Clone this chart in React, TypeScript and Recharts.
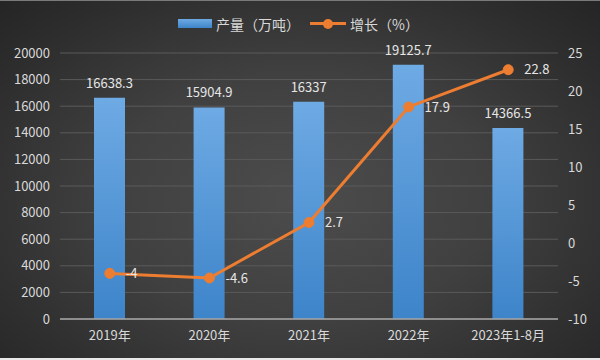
import React from 'react';
import {
  ComposedChart,
  Bar,
  Line,
  XAxis,
  YAxis,
  CartesianGrid,
  LabelList,
} from 'recharts';

const categories = ['2019年', '2020年', '2021年', '2022年', '2023年1-8月'];
const production = [16638.3, 15904.9, 16337, 19125.7, 14366.5];
const growth = [-4, -4.6, 2.7, 17.9, 22.8];
const leftTicks = [0, 2000, 4000, 6000, 8000, 10000, 12000, 14000, 16000, 18000, 20000];
const rightTicks = [-10, -5, 0, 5, 10, 15, 20, 25];
const barName = '产量（万吨）';
const lineName = '增长（%）';

const data = categories.map((c, i) => ({ name: c, production: production[i], growth: growth[i] }));

const FONT = '"Noto Sans CJK SC", "Noto Sans", sans-serif';
const TEXT = '#d9d9d9';
const ORANGE = '#ED7D31';

export default function App() {
  return (
    <div style={{ position: 'absolute', left: 0, top: 0, width: 600, height: 360, background: '#e8e8e8', fontFamily: FONT }}>
      <div
        style={{
          position: 'absolute',
          left: 0,
          top: 0,
          width: 600,
          height: 358,
          background: 'radial-gradient(ellipse at 50% 55%, #4c4c4c 0%, #404040 45%, #2e2e2e 80%, #252525 100%)',
          borderTop: '1px solid #7a7a7a',
          boxSizing: 'border-box',
        }}
      />
      <div style={{ position: 'absolute', left: 0, top: 0 }}>
        <ComposedChart width={600} height={360} data={data} margin={{ top: 53, right: 0, bottom: 11, left: 0 }}>
          <defs>
            <linearGradient id="barGrad" x1="0" y1="0" x2="0" y2="1">
              <stop offset="0%" stopColor="#6eaae4" />
              <stop offset="100%" stopColor="#3d84c9" />
            </linearGradient>
          </defs>
          <CartesianGrid yAxisId="left" vertical={false} stroke="#5a5a5a" strokeWidth={1} />
          <XAxis
            dataKey="name"
            height={30}
            axisLine={{ stroke: '#a6a6a6', strokeWidth: 1.5 }}
            tickLine={false}
            tickMargin={6}
            tick={{ fill: TEXT, fontSize: 13, fontFamily: FONT }}
            interval={0}
          />
          <YAxis
            yAxisId="left"
            width={60}
            domain={[0, 20000]}
            ticks={leftTicks}
            axisLine={false}
            tickLine={false}
            tickMargin={4}
            tick={{ fill: TEXT, fontSize: 13, fontFamily: FONT }}
          />
          <YAxis
            yAxisId="right"
            orientation="right"
            width={42}
            domain={[-10, 25]}
            ticks={rightTicks}
            axisLine={false}
            tickLine={false}
            tickMargin={4}
            tick={{ fill: TEXT, fontSize: 13, fontFamily: FONT }}
          />
          <Bar yAxisId="left" dataKey="production" name={barName} fill="url(#barGrad)" barSize={31} isAnimationActive={false}>
            <LabelList dataKey="production" position="top" offset={10} fill="#e6e6e6" fontSize={13} fontFamily={FONT} />
          </Bar>
          <Line
            yAxisId="right"
            dataKey="growth"
            name={lineName}
            stroke={ORANGE}
            strokeWidth={3}
            dot={{ r: 5, fill: ORANGE, stroke: ORANGE, strokeWidth: 1 }}
            activeDot={false}
            isAnimationActive={false}
          >
            <LabelList dataKey="growth" position="right" offset={16} fill="#e6e6e6" fontSize={13} fontFamily={FONT} />
          </Line>
        </ComposedChart>
      </div>
      <div
        style={{
          position: 'absolute',
          left: 0,
          top: 14,
          width: 600,
          height: 20,
          fontSize: 14,
          color: TEXT,
          fontFamily: FONT,
        }}
      >
        <div style={{ position: 'absolute', left: 178, top: 5, width: 34, height: 9, background: 'linear-gradient(#6eaae4, #3d84c9)' }} />
        <div style={{ position: 'absolute', left: 216, top: 0, lineHeight: '20px', whiteSpace: 'nowrap' }}>{barName}</div>
        <div style={{ position: 'absolute', left: 310, top: 8, width: 36, height: 3, background: ORANGE }} />
        <div style={{ position: 'absolute', left: 323, top: 4.5, width: 10, height: 10, borderRadius: 5, background: ORANGE }} />
        <div style={{ position: 'absolute', left: 350, top: 0, lineHeight: '20px', whiteSpace: 'nowrap' }}>{lineName}</div>
      </div>
    </div>
  );
}
